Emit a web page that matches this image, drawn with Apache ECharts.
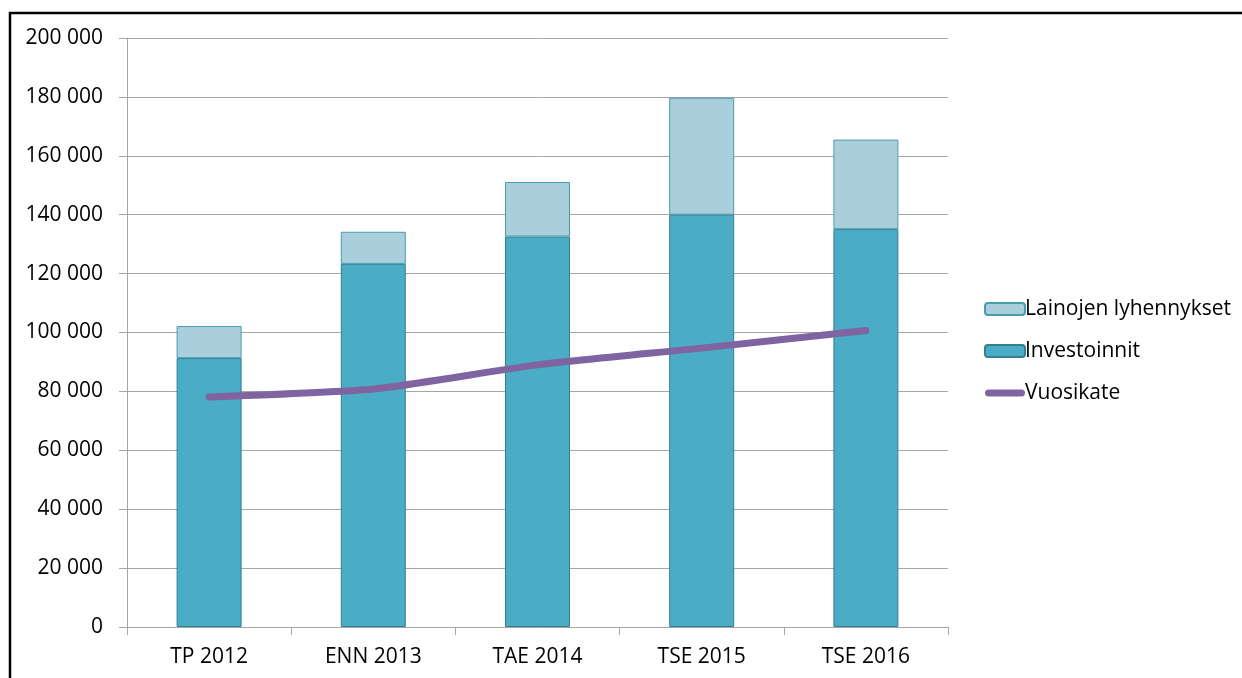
<!DOCTYPE html>
<html>
<head>
<meta charset="utf-8">
<script src="https://cdn.jsdelivr.net/npm/echarts@6/dist/echarts.min.js"></script>
<style>
html,body{margin:0;padding:0;background:#fff;}
#c{width:1242px;height:678px;}
</style>
</head>
<body>
<div id="c"></div>
<script>
const categories = ['TP 2012', 'ENN 2013', 'TAE 2014', 'TSE 2015', 'TSE 2016'];
const investoinnit = [91300, 123300, 132600, 140000, 135100];
const lainojen = [10900, 10900, 18500, 39700, 30400];
const vuosikate = [78100, 80800, 89000, 94700, 100700];
const yTicks = [0, 20000, 40000, 60000, 80000, 100000, 120000, 140000, 160000, 180000, 200000];

const FONT = 'Open Sans';
function fmt(v){ return String(v).replace(/\B(?=(\d{3})+(?!\d))/g, ' '); }

const chart = echarts.init(document.getElementById('c'), null, {renderer:'canvas'});
chart.setOption({
  animation: false,
  backgroundColor: '#fff',
  textStyle: {fontFamily: FONT},
  grid: {left: 127, right: 294, top: 38, bottom: 51, containLabel: false},
  legend: {
    orient: 'vertical',
    left: 979,
    top: 292,
    itemWidth: 40,
    itemHeight: 12,
    itemGap: 18,
    symbolKeepAspect: true,
    textStyle: {fontFamily: FONT, fontSize: 21, color: '#000', lineHeight: 24, padding: [0,0,0,-5]},
    data: [
      'Lainojen lyhennykset',
      'Investoinnit',
      {name: 'Vuosikate',
       icon: 'path://M3.5,0 L36.5,0 A3.5,3.5 0 0 1 36.5,7 L3.5,7 A3.5,3.5 0 0 1 3.5,0 Z',
       itemStyle: {color: '#8064a2', borderWidth: 0}}
    ]
  },
  xAxis: {
    type: 'category',
    data: categories,
    axisLine: {lineStyle: {color: '#a6a6a6', width: 1}},
    axisTick: {show: true, length: 8, lineStyle: {color: '#a6a6a6'}},
    axisLabel: {fontFamily: FONT, fontSize: 21, color: '#000', margin: 20}
  },
  yAxis: {
    type: 'value',
    min: yTicks[0],
    max: yTicks[yTicks.length-1],
    interval: 20000,
    axisLine: {show: true, lineStyle: {color: '#a6a6a6', width: 1}},
    axisTick: {show: true, length: 8, lineStyle: {color: '#a6a6a6'}},
    axisLabel: {fontFamily: FONT, fontSize: 21, color: '#000', margin: 24, formatter: fmt},
    splitLine: {lineStyle: {color: '#a6a6a6', width: 1}}
  },
  series: [
    {
      name: 'Investoinnit', type: 'bar', stack: 's', data: investoinnit,
      barWidth: 65,
      itemStyle: {color: '#4bacc6', borderColor: '#357f93', borderWidth: 1}
    },
    {
      name: 'Lainojen lyhennykset', type: 'bar', stack: 's', data: lainojen,
      barWidth: 65,
      itemStyle: {color: '#a9cfdd', borderColor: '#4b9bb0', borderWidth: 1}
    },
    {
      name: 'Vuosikate', type: 'line', data: vuosikate, smooth: 0.2,
      symbol: 'none', z: 5,
      lineStyle: {color: '#8064a2', width: 7, cap: 'round'},
      itemStyle: {color: '#8064a2'}
    }
  ],
  graphic: [
    {type: 'polyline', shape: {points: [[10, 678], [10, 13], [1242, 13]]},
     style: {stroke: '#000', lineWidth: 2.5, fill: null}}
  ]
});
</script>
</body>
</html>
